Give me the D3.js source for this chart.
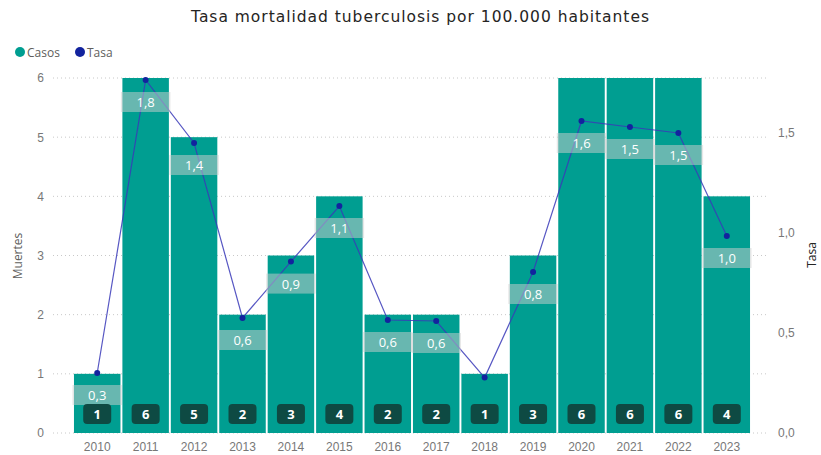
<!DOCTYPE html>
<html><head><meta charset="utf-8">
<script src="https://cdn.jsdelivr.net/npm/d3@7"></script>
<style>body{margin:0;background:#fff;}svg{display:block;font-family:"Open Sans","Noto Sans",sans-serif;}</style>
</head><body><svg id="c" width="821" height="455"></svg>
<script>
const years = ["2010","2011","2012","2013","2014","2015","2016","2017","2018","2019","2020","2021","2022","2023"];
const casos = [1,6,5,2,3,4,2,2,1,3,6,6,6,4];
const tasa = [0.30,1.765,1.45,0.575,0.857,1.135,0.565,0.56,0.277,0.805,1.56,1.53,1.50,0.985];
const tasaLabels = ["0,3","1,8","1,4","0,6","0,9","1,1","0,6","0,6","","0,8","1,6","1,5","1,5","1,0"];
const leftTicks = [0,1,2,3,4,5,6];
const rightTicks = [0,0.5,1.0,1.5];

const svg = d3.select("#c");
const plotTop=78, plotBottom=433;
const x = d3.scaleBand().domain(years).range([73,751]).paddingInner(0.04).paddingOuter(0.02);
const yL = d3.scaleLinear().domain([0,6]).range([plotBottom,plotTop]);
const yR = d3.scaleLinear().domain([0,1.775]).range([plotBottom,plotTop]);

svg.append("text").attr("x",420).attr("y",22).attr("text-anchor","middle")
  .attr("font-family","DejaVu Sans").attr("font-size",15.5).attr("fill","#252423")
  .attr("textLength",458).attr("lengthAdjust","spacing")
  .text("Tasa mortalidad tuberculosis por 100.000 habitantes");

// legend
const lg = svg.append("g");
lg.append("circle").attr("cx",20).attr("cy",52).attr("r",5).attr("fill","#009e91");
lg.append("text").attr("x",27).attr("y",56.5).attr("font-size",12).attr("fill","#605e5c").text("Casos");
lg.append("circle").attr("cx",80).attr("cy",52).attr("r",5).attr("fill","#12239e");
lg.append("text").attr("x",87).attr("y",56.5).attr("font-size",12).attr("fill","#605e5c").text("Tasa");

// gridlines
svg.append("g").selectAll("line").data(leftTicks).join("line")
  .attr("x1",53).attr("x2",768).attr("y1",d=>yL(d)).attr("y2",d=>yL(d))
  .attr("stroke","#c8c8c8").attr("stroke-width",1).attr("stroke-dasharray","1,3");

// left axis
const axL = svg.append("g").attr("transform","translate(44,0)")
  .call(d3.axisLeft(yL).tickValues(leftTicks).tickSize(0).tickPadding(0).tickFormat(d3.format("d")));
axL.select(".domain").remove();
axL.selectAll("text").attr("font-size",12).attr("fill","#777").attr("font-family","inherit");

// right axis
const axR = svg.append("g").attr("transform","translate(778,0)")
  .call(d3.axisRight(yR).tickValues(rightTicks).tickSize(0).tickPadding(0).tickFormat(d=>d.toFixed(1).replace(".",",")));
axR.select(".domain").remove();
axR.selectAll("text").attr("font-size",12).attr("fill","#777").attr("font-family","inherit");

// x axis
const axX = svg.append("g").attr("transform",`translate(0,${plotBottom})`)
  .call(d3.axisBottom(x).tickSize(0).tickPadding(9));
axX.select(".domain").remove();
axX.selectAll("text").attr("font-size",12).attr("fill","#777").attr("font-family","inherit");

// axis titles
svg.append("text").attr("transform","translate(22,256) rotate(-90)").attr("text-anchor","middle")
  .attr("font-size",12).attr("fill","#605e5c").text("Muertes");
svg.append("text").attr("transform","translate(816,255) rotate(-90)").attr("text-anchor","middle")
  .attr("font-size",12).attr("fill","#252423").text("Tasa");

// bars
svg.append("g").selectAll("rect").data(years).join("rect")
  .attr("x",d=>x(d)).attr("width",x.bandwidth())
  .attr("y",(d,i)=>yL(casos[i])).attr("height",(d,i)=>plotBottom-yL(casos[i]))
  .attr("fill","#009e91");

// line
const pts = years.map((d,i)=>[x(d)+x.bandwidth()/2, yR(tasa[i])]);
svg.append("path").attr("d",d3.line()(pts)).attr("fill","none")
  .attr("stroke","#3a3ab8").attr("stroke-width",1.2).attr("stroke-opacity",0.85);
svg.append("g").selectAll("circle").data(pts).join("circle")
  .attr("cx",d=>d[0]).attr("cy",d=>d[1]).attr("r",3).attr("fill","#12239e");

// rate labels
const rl = svg.append("g").selectAll("g").data(years.map((d,i)=>({d,i})).filter(o=>tasaLabels[o.i]!=="")).join("g");
rl.append("rect").attr("x",o=>x(o.d)-1.5).attr("width",x.bandwidth()+3)
  .attr("y",o=>yR(tasa[o.i])+12).attr("height",20)
  .attr("fill","#cfcfcf").attr("fill-opacity",0.5);
rl.append("text").attr("x",o=>x(o.d)+x.bandwidth()/2).attr("y",o=>yR(tasa[o.i])+27)
  .attr("text-anchor","middle").attr("font-size",13).attr("fill","#fff").text(o=>tasaLabels[o.i]);

// count labels
const cl = svg.append("g").selectAll("g").data(years).join("g");
cl.append("rect").attr("x",d=>x(d)+x.bandwidth()/2-14).attr("y",404).attr("width",28).attr("height",20)
  .attr("rx",4).attr("fill","#0e4a43");
cl.append("text").attr("x",d=>x(d)+x.bandwidth()/2).attr("y",419).attr("text-anchor","middle")
  .attr("font-size",13).attr("font-weight","bold").attr("fill","#fff").text((d,i)=>casos[i]);
</script></body></html>
